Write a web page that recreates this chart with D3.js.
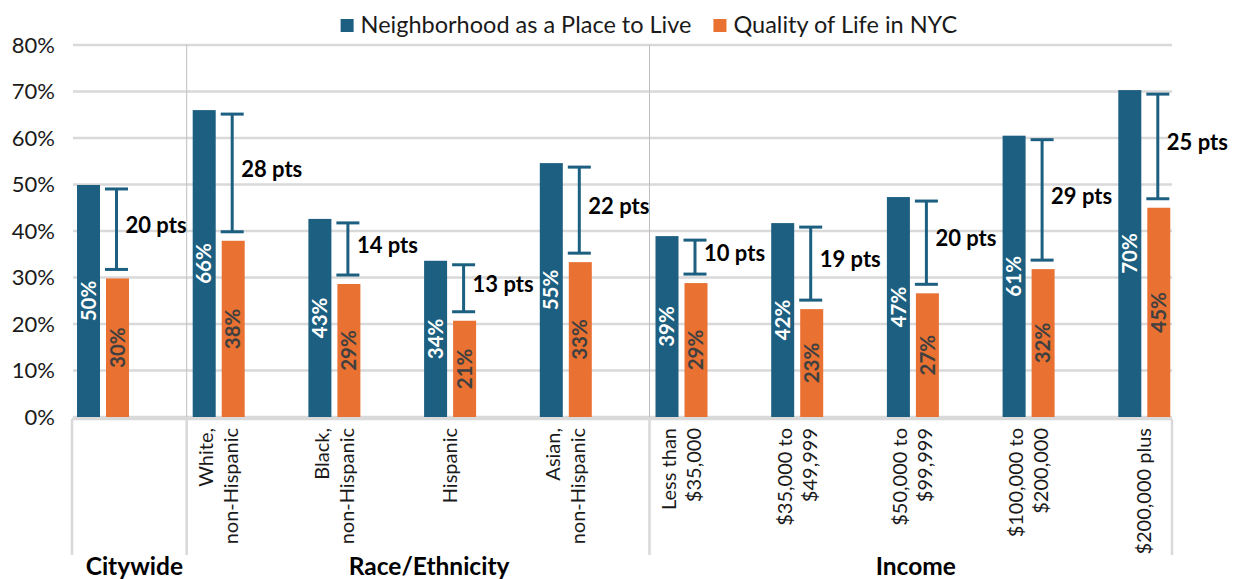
<!DOCTYPE html>
<html>
<head>
<meta charset="UTF-8">
<title>Neighborhood vs Quality of Life</title>
<script src="https://cdn.jsdelivr.net/npm/d3@7"></script>
<style>
  body { margin: 0; background: #fff; }
  svg { font-family: Lato, "Open Sans", sans-serif; }
</style>
</head>
<body>
<svg width="1236" height="579"></svg>
<script>
// data
var categories = ["Citywide", "White,|non-Hispanic", "Black,|non-Hispanic", "Hispanic",
  "Asian,|non-Hispanic", "Less than|$35,000", "$35,000 to|$49,999", "$50,000 to|$99,999",
  "$100,000 to|$200,000", "$200,000 plus"];
var neighborhood = [49.9, 66.0, 42.6, 33.6, 54.6, 38.9, 41.7, 47.3, 60.5, 70.3];
var qualityOfLife = [29.8, 37.9, 28.6, 20.7, 33.3, 28.8, 23.2, 26.6, 31.8, 45.0];
var groups = ["Citywide", "Race/Ethnicity", "Income"];
var groupStart = [0, 1, 5];   // first category index of each group
var yTicks = [0, 10, 20, 30, 40, 50, 60, 70, 80];
var seriesNames = ["Neighborhood as a Place to Live", "Quality of Life in NYC"];

var blue = "#1c5f80", orange = "#e97132";

var svg = d3.select("svg");

var x = d3.scaleBand()
  .domain(d3.range(categories.length))
  .range([71, 1228]);

var y = d3.scaleLinear()
  .domain([0, 80])
  .range([417, 45]);

var barW = 23, gap = 6, barOff = 6;
var plotLeft = 73, plotRight = 1172;

// gridlines
svg.append("g").selectAll("line")
  .data(yTicks)
  .enter().append("line")
  .attr("x1", plotLeft).attr("x2", plotRight)
  .attr("y1", function(d) { return y(d); })
  .attr("y2", function(d) { return y(d); })
  .attr("stroke", "#d9d9d9")
  .attr("stroke-width", 2.5);

// y labels
svg.append("g").selectAll("text")
  .data(yTicks)
  .enter().append("text")
  .attr("x", 55)
  .attr("y", function(d) { return y(d); })
  .attr("dy", "0.35em")
  .attr("text-anchor", "end")
  .attr("font-size", 22)
  .attr("fill", "#1a1a1a")
  .text(function(d) { return d + "%"; });

// group dividers inside plot
var dividers = groupStart.slice(1).map(function(i) { return x(i); });
svg.append("g").selectAll("line")
  .data(dividers)
  .enter().append("line")
  .attr("x1", function(d) { return d; }).attr("x2", function(d) { return d; })
  .attr("y1", y(80)).attr("y2", y(0))
  .attr("stroke", "#bfbfbf")
  .attr("stroke-width", 1);

// category axis frame below plot
var axisG = svg.append("g");
axisG.append("line")
  .attr("x1", 72).attr("x2", plotRight)
  .attr("y1", 419).attr("y2", 419)
  .attr("stroke", "#d9d9d9").attr("stroke-width", 2.5);
var ticksX = [72].concat(dividers).concat([plotRight]);
axisG.selectAll(".tk")
  .data(ticksX)
  .enter().append("line")
  .attr("class", "tk")
  .attr("x1", function(d) { return d; }).attr("x2", function(d) { return d; })
  .attr("y1", 419).attr("y2", 555)
  .attr("stroke", "#d9d9d9").attr("stroke-width", 2.5);

// bars
var bars = svg.append("g");
bars.selectAll(".nb")
  .data(neighborhood)
  .enter().append("rect")
  .attr("x", function(d, i) { return x(i) + barOff; })
  .attr("y", function(d) { return y(d); })
  .attr("width", barW)
  .attr("height", function(d) { return y(0) - y(d); })
  .attr("fill", blue);

bars.selectAll(".ql")
  .data(qualityOfLife)
  .enter().append("rect")
  .attr("x", function(d, i) { return x(i) + barOff + barW + gap; })
  .attr("y", function(d) { return y(d); })
  .attr("width", barW)
  .attr("height", function(d) { return y(0) - y(d); })
  .attr("fill", orange);

// value labels in bars
function barLabels(data, dx, color) {
  svg.append("g").selectAll("text")
    .data(data)
    .enter().append("text")
    .attr("transform", function(d, i) {
      return "translate(" + (x(i) + dx + barW / 2) + "," + (y(d) + y(0)) / 2 + ") rotate(-90)";
    })
    .attr("text-anchor", "middle")
    .attr("dy", "0.35em")
    .attr("font-size", 20.5)
    .attr("font-weight", "bold")
    .attr("fill", color)
    .text(function(d) { return Math.round(d) + "%"; });
}
barLabels(neighborhood, barOff, "#ffffff");
barLabels(qualityOfLife, barOff + barW + gap, "#404040");

// difference brackets
var diffs = neighborhood.map(function(d, i) {
  return { i: i, hi: d, lo: qualityOfLife[i], pts: Math.round(d) - Math.round(qualityOfLife[i]) };
});
var br = svg.append("g").selectAll("g")
  .data(diffs)
  .enter().append("g")
  .attr("transform", function(d) {
    return "translate(" + (x(d.i) + barOff + barW + gap + barW / 2 - 1) + ",0)";
  });
br.append("line")
  .attr("x1", 0).attr("x2", 0)
  .attr("y1", function(d) { return y(d.hi) + 4; })
  .attr("y2", function(d) { return y(d.lo) - 9; })
  .attr("stroke", blue).attr("stroke-width", 3);
br.append("line")
  .attr("x1", -barW / 2).attr("x2", barW / 2)
  .attr("y1", function(d) { return y(d.hi) + 4; })
  .attr("y2", function(d) { return y(d.hi) + 4; })
  .attr("stroke", blue).attr("stroke-width", 3);
br.append("line")
  .attr("x1", -barW / 2).attr("x2", barW / 2)
  .attr("y1", function(d) { return y(d.lo) - 9; })
  .attr("y2", function(d) { return y(d.lo) - 9; })
  .attr("stroke", blue).attr("stroke-width", 3);
br.append("text")
  .attr("x", 9)
  .attr("y", function(d) { return (y(d.hi) + y(d.lo) - 5) / 2 - 4; })
  .attr("dy", "0.35em")
  .attr("font-size", 22)
  .attr("font-weight", "bold")
  .attr("fill", "#000")
  .text(function(d) { return d.pts + " pts"; });

// category labels (rotated)
var cat = svg.append("g").selectAll("g")
  .data(categories)
  .enter().append("g")
  .attr("transform", function(d, i) {
    return "translate(" + (x(i) + barOff + barW + gap / 2) + ",428) rotate(-90)";
  });
cat.each(function(d, i) {
  if (i === 0) return; // citywide has only the group label
  var lines = d.split("|");
  var g = d3.select(this);
  lines.forEach(function(s, k) {
    g.append("text")
      .attr("x", 0)
      .attr("y", (k - (lines.length - 1) / 2) * 25 + 7)
      .attr("text-anchor", "end")
      .attr("font-size", 20)
      .attr("fill", "#1a1a1a")
      .text(s);
  });
});

// group labels
svg.append("g").selectAll("text")
  .data(groups)
  .enter().append("text")
  .attr("x", function(d, i) { return (ticksX[i] + ticksX[i + 1]) / 2 + (i === 1 ? 11 : 5); })
  .attr("y", 566)
  .attr("dy", "0.35em")
  .attr("text-anchor", "middle")
  .attr("font-size", 24.5)
  .attr("font-weight", "bold")
  .attr("fill", "#000")
  .text(function(d) { return d; });

// legend
var legend = svg.append("g");
var lg = legend.selectAll("g")
  .data(seriesNames)
  .enter().append("g");
lg.append("rect")
  .attr("width", 13).attr("height", 13)
  .attr("y", 19)
  .attr("fill", function(d, i) { return i === 0 ? blue : orange; });
lg.append("text")
  .attr("x", 20)
  .attr("y", 25)
  .attr("dy", "0.35em")
  .attr("font-size", 23.5)
  .attr("fill", "#1a1a1a")
  .text(function(d) { return d; });
// lay out legend items centered
var widths = [];
lg.each(function() { widths.push(this.getBBox().width); });
var total = d3.sum(widths) + 22;
var start = 649 - total / 2;
lg.attr("transform", function(d, i) {
  var off = start + (i === 0 ? 0 : widths[0] + 22);
  return "translate(" + off + ",0)";
});
</script>
</body>
</html>
